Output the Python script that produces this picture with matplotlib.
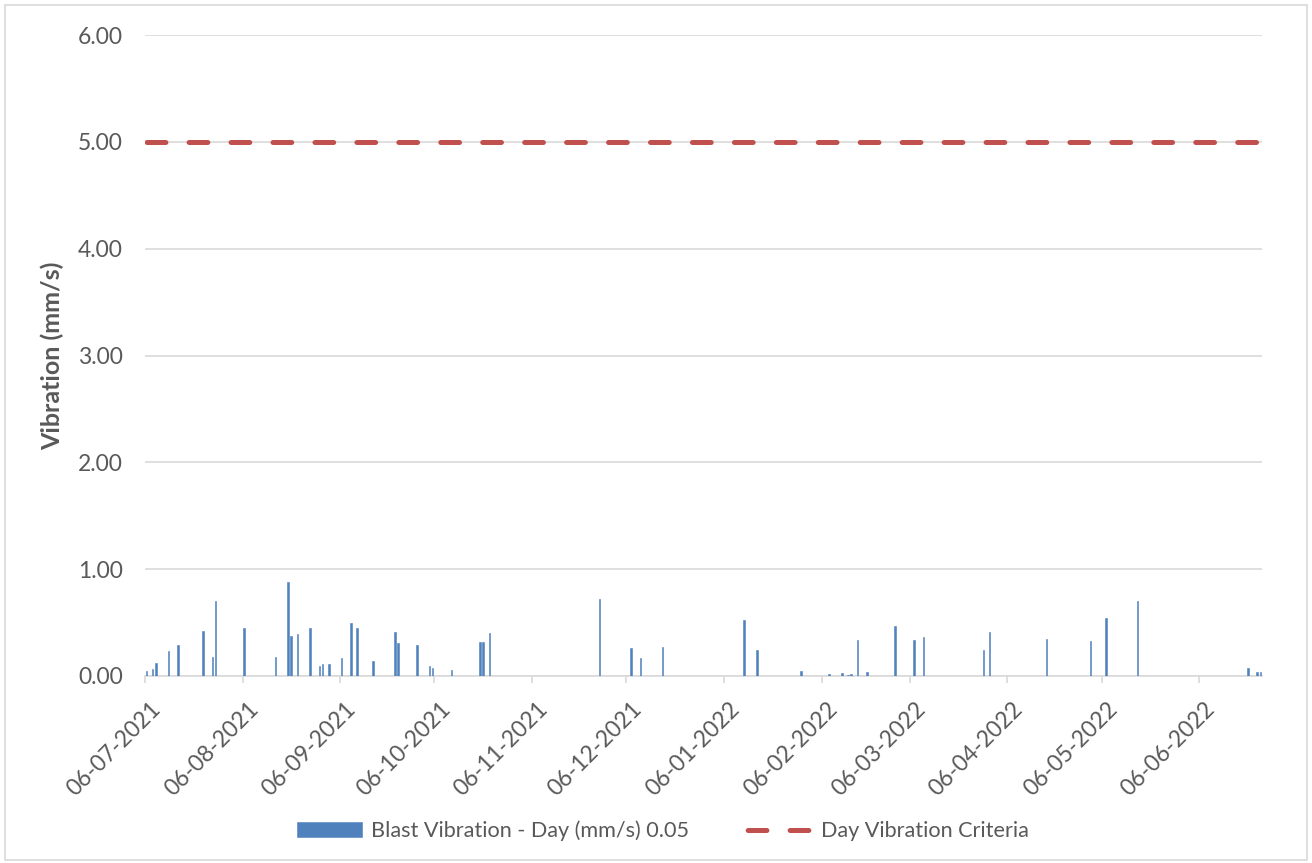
import pandas as pd
import numpy as np
import matplotlib
import matplotlib.pyplot as plt
import matplotlib.dates as mdates
import matplotlib.transforms as mtrans
from matplotlib.patches import Rectangle

matplotlib.use('agg')
plt.rcParams['font.family'] = ['Lato', 'DejaVu Sans']
plt.rcParams['lines.scale_dashes'] = False

# blast events
blast_dates = ['2021-07-06', '2021-07-08', '2021-07-09', '2021-07-13', '2021-07-16',
               '2021-07-24', '2021-07-27', '2021-07-28', '2021-08-06', '2021-08-16',
               '2021-08-20', '2021-08-21', '2021-08-23', '2021-08-27', '2021-08-30',
               '2021-08-31', '2021-09-02', '2021-09-06', '2021-09-09', '2021-09-11',
               '2021-09-16', '2021-09-23', '2021-09-24', '2021-09-30', '2021-10-04',
               '2021-10-05', '2021-10-11', '2021-10-20', '2021-10-21', '2021-10-23',
               '2021-11-27', '2021-12-07', '2021-12-10', '2021-12-17', '2022-01-12',
               '2022-01-16', '2022-01-30', '2022-02-08', '2022-02-12', '2022-02-14',
               '2022-02-15', '2022-02-17', '2022-02-20', '2022-03-01', '2022-03-07',
               '2022-03-10', '2022-03-29', '2022-03-31', '2022-04-18', '2022-05-02',
               '2022-05-07', '2022-05-17', '2022-06-21', '2022-06-24', '2022-06-25']
blast_vibration = [0.05, 0.07, 0.12, 0.23, 0.29,
                   0.42, 0.18, 0.70, 0.45, 0.18,
                   0.88, 0.37, 0.39, 0.45, 0.09,
                   0.11, 0.11, 0.17, 0.50, 0.45,
                   0.14, 0.41, 0.31, 0.29, 0.09,
                   0.075, 0.056, 0.32, 0.32, 0.40,
                   0.72, 0.26, 0.17, 0.27, 0.52,
                   0.24, 0.05, 0.02, 0.025, 0.01,
                   0.02, 0.34, 0.04, 0.47, 0.34,
                   0.365, 0.24, 0.41, 0.35, 0.33,
                   0.54, 0.705, 0.075, 0.04, 0.04]
criteria_value = 5.0

axis_start = '2021-07-06'
axis_end = '2022-06-26'
tick_dates = ['2021-07-06', '2021-08-06', '2021-09-06', '2021-10-06', '2021-11-06',
              '2021-12-06', '2022-01-06', '2022-02-06', '2022-03-06', '2022-04-06',
              '2022-05-06', '2022-06-06']

grey = '#d9d9d9'
textc = '#595959'

fig = plt.figure(figsize=(13.12, 8.63), dpi=100)
ax = fig.add_axes([0.1105, 0.2167, 0.8515, 0.7427])

x = pd.to_datetime(blast_dates) + pd.Timedelta(hours=10)
bars = ax.bar(x, blast_vibration, width=0.5, color='#4F81BD', edgecolor='#4F81BD',
              linewidth=0.4, label='Blast Vibration - Day (mm/s) 0.05', zorder=3)

xr = pd.to_datetime([axis_start, axis_end])
line, = ax.plot(xr, [criteria_value, criteria_value], color='#C0504D', lw=3.6,
                linestyle=(-1.2, (13.5, 16.7)), dash_capstyle='round',
                label='Day Vibration Criteria', zorder=4)

ax.set_xlim(xr[0], xr[1])
ax.set_ylim(0, 6)
ax.set_yticks(np.arange(0, 7, 1))
ax.yaxis.set_major_formatter(matplotlib.ticker.FormatStrFormatter('%.2f'))
ax.set_xticks(pd.to_datetime(tick_dates))
ax.xaxis.set_major_formatter(mdates.DateFormatter('%d-%m-%Y'))

ax.grid(axis='y', color=grey, lw=1.2, zorder=0)
for s in ['top', 'right', 'left']:
    ax.spines[s].set_visible(False)
ax.spines['bottom'].set_color(grey)
ax.spines['bottom'].set_linewidth(1.2)

ax.tick_params(axis='y', length=0, pad=16, labelsize=16.5, labelcolor=textc)
ax.tick_params(axis='x', length=5, width=1.2, color=grey, labelsize=16.5,
               labelcolor=textc, pad=11)
shift = mtrans.ScaledTranslation(5 / 100, 0, fig.dpi_scale_trans)
for lbl in ax.get_xticklabels():
    lbl.set_rotation(45)
    lbl.set_ha('right')
    lbl.set_rotation_mode('anchor')
    lbl.set_transform(lbl.get_transform() + shift)

ax.set_ylabel('Vibration (mm/s)', fontsize=18, fontweight='bold', color=textc, labelpad=10)

fig.legend(handles=[bars, line], loc='center', bbox_to_anchor=(0.505, 0.037), ncol=2,
           frameon=False, fontsize=15.6, handlelength=3.0, handletextpad=0.45,
           columnspacing=2.6, labelcolor=textc)

fig.patches.append(Rectangle((0.004, 0.004), 0.992, 0.99, transform=fig.transFigure,
                             fill=False, edgecolor=grey, lw=1.2))

plt.savefig('out.png', dpi=100)
